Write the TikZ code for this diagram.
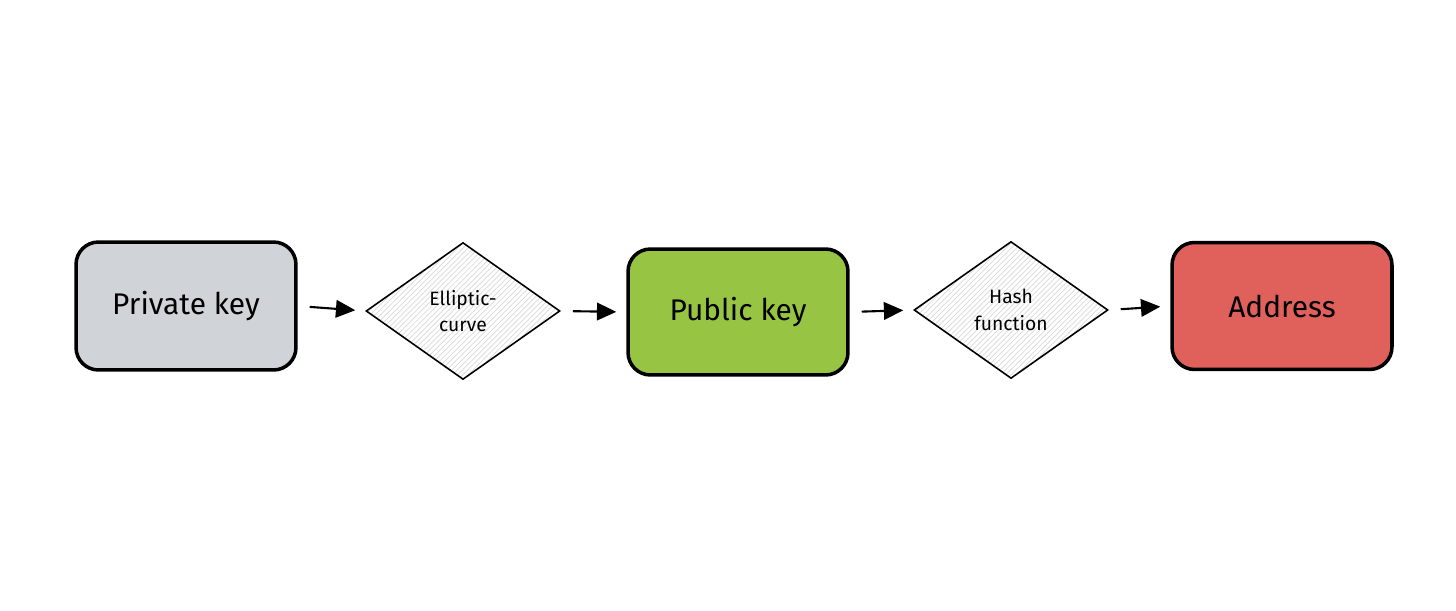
\documentclass[tikz,border=0pt]{standalone}
\usepackage{fontspec}
\setmainfont{Fira Sans}
\usetikzlibrary{shapes.geometric,arrows.meta,patterns}
\definecolor{privgray}{RGB}{208,211,216}
\definecolor{pubgreen}{RGB}{151,196,67}
\definecolor{addrred}{RGB}{224,96,92}
\tikzset{
  keybox/.style={draw, line width=2pt, rounded corners=0.45cm,
    minimum width=4.4cm, minimum height=2.56cm,
    font=\fontsize{17}{20}\selectfont},
  mapbox/.style={diamond, draw, line width=0.9pt,
    pattern=north east lines, pattern color=black!15,
    minimum width=3.88cm, minimum height=2.74cm, inner sep=0pt,
    align=center, font=\fontsize{11}{15}\selectfont},
  flow/.style={-{Triangle[length=11pt,width=10pt]}, line width=1.2pt,
    shorten <=0.24cm, shorten >=0.2cm}
}
\begin{document}
\begin{tikzpicture}[x=0.02cm, y=-0.02cm]
  \useasboundingbox (0,0) rectangle (1456,611);
  \draw
    (186,306) node[keybox, fill=privgray] (priv){Private key}
    (463,311) node[mapbox] (ell){Elliptic-\\curve}
    (738,312) node[keybox, fill=pubgreen, minimum height=2.52cm] (pub){Public key}
    (1011,310) node[mapbox] (hash){Hash\\function}
    (1282,306) node[keybox, fill=addrred, minimum height=2.54cm] (addr){Address};
  \begin{scope}[flow]
    \draw (priv.east) to (ell.west);
    \draw (ell.east) to (pub.west);
    \draw (pub.east) to (hash.west);
    \draw (hash.east) to (addr.west);
  \end{scope}
\end{tikzpicture}
\end{document}
